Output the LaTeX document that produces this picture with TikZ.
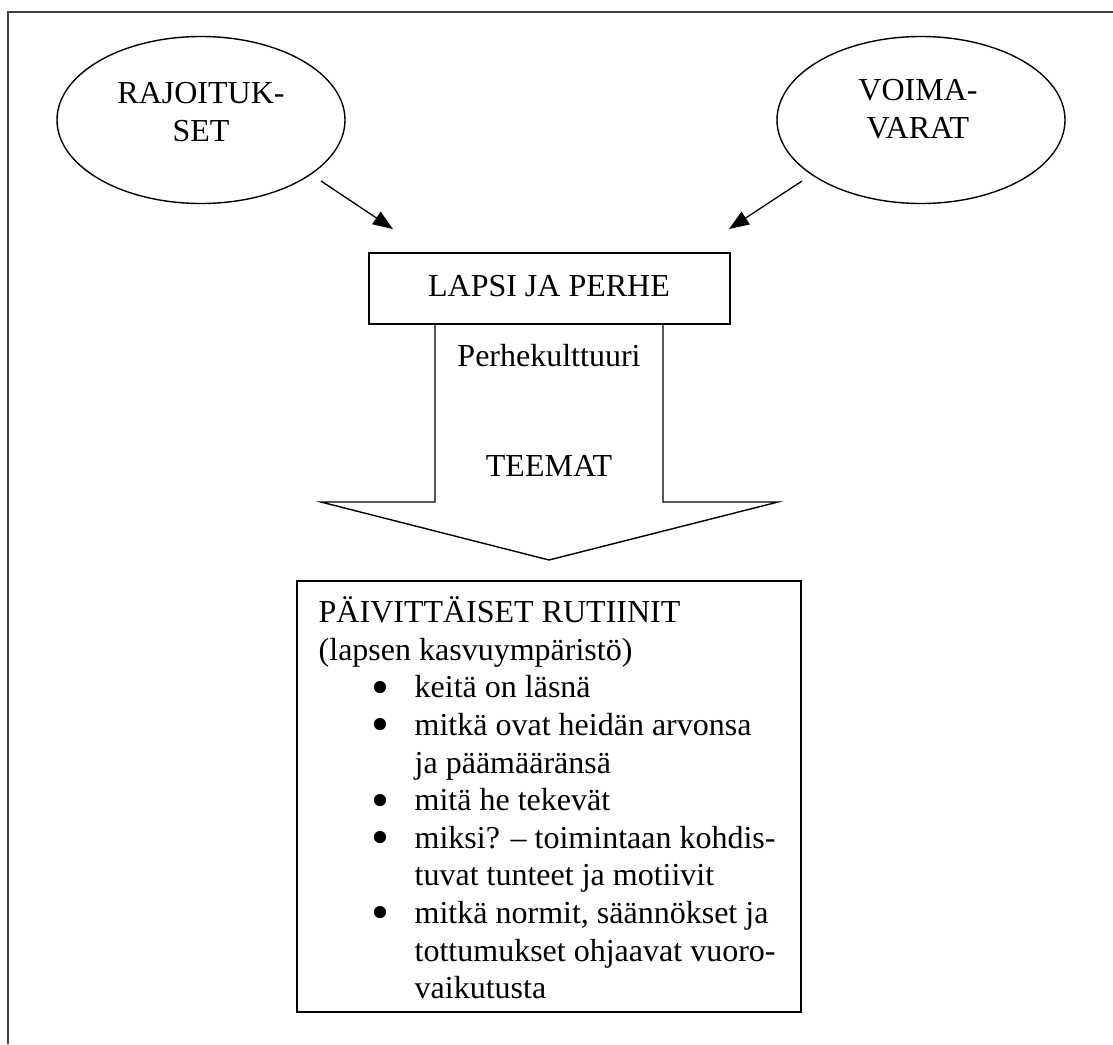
\documentclass[tikz,border=0pt]{standalone}
\usepackage{fontspec}
\setmainfont{Liberation Serif}
\usetikzlibrary{shapes.geometric,arrows.meta}
\begin{document}
\begin{tikzpicture}[x=1pt,y=-1pt,
  line width=1.4pt,
  txt/.style={font=\fontsize{32}{37.6}\selectfont, inner sep=0pt},
  oval/.style={draw, ellipse, minimum width=288pt, minimum height=167pt, inner sep=0pt},
  boxnode/.style={draw, rectangle, inner sep=0pt},
  inarrow/.style={-{Triangle[length=20pt,width=15pt]}, line width=1.3pt}
]
\useasboundingbox (0,0) rectangle (1113,1044);
% outer frame (left and top only visible)
\draw[line width=1.6pt, black!75] (8,1044) -- (8,12) -- (1113,12);

% ellipses
\node[oval] (e1) at (201,120) {};
\node[txt, align=center] (t1) at (201,112) {RAJOITUK-\\SET};
\node[oval] (e2) at (921,120) {};
\node[txt, align=center] (t2) at (918,109) {VOIMA-\\VARAT};

% arrows
\coordinate (a1s) at (321,181);
\coordinate (a1e) at (393,229);
\coordinate (a2s) at (802,181);
\coordinate (a2e) at (729,229);
\draw[inarrow] (a1s) -- (a1e);
\draw[inarrow] (a2s) -- (a2e);

% LAPSI JA PERHE
\node[boxnode, minimum width=361pt, minimum height=71pt] (lp) at (549.5,288.5) {};
\node[txt] (lpt) at (549,286) {LAPSI JA PERHE};

% big arrow
\coordinate (s1) at (435,324);
\coordinate (s2) at (435,502);
\coordinate (w1) at (321,502);
\coordinate (tip) at (549,560);
\coordinate (w2) at (778,502);
\coordinate (s3) at (663,502);
\coordinate (s4) at (663,324);
\draw[line join=miter] (s1) -- (s2) -- (w1) -- (tip) -- (w2) -- (s3) -- (s4);
\node[txt] (pk) at (549,356) {Perhekulttuuri};
\node[txt] (tm) at (549,466) {TEEMAT};

% bottom box
\node[boxnode, minimum width=504pt, minimum height=431pt] (rb) at (549,796.5) {};
\newcommand{\bigbul}{\raisebox{-0.2em}{\scalebox{1.6}{\textbullet}}}
\newcommand{\bitem}[1]{\makebox[96pt][l]{\hspace{53pt}\bigbul}#1}
\newcommand{\bcont}[1]{\makebox[96pt][l]{}#1}
\node[txt, align=left, anchor=north west] (rbt) at (318,596) {%
PÄIVITTÄISET RUTIINIT\\
(lapsen kasvuympäristö)\\
\bitem{keitä on läsnä}\\
\bitem{mitkä ovat heidän arvonsa}\\
\bcont{ja päämääränsä}\\
\bitem{mitä he tekevät}\\
\bitem{miksi? – toimintaan kohdis-}\\
\bcont{tuvat tunteet ja motiivit}\\
\bitem{mitkä normit, säännökset ja}\\
\bcont{tottumukset ohjaavat vuoro-}\\
\bcont{vaikutusta}};
\end{tikzpicture}
\end{document}
